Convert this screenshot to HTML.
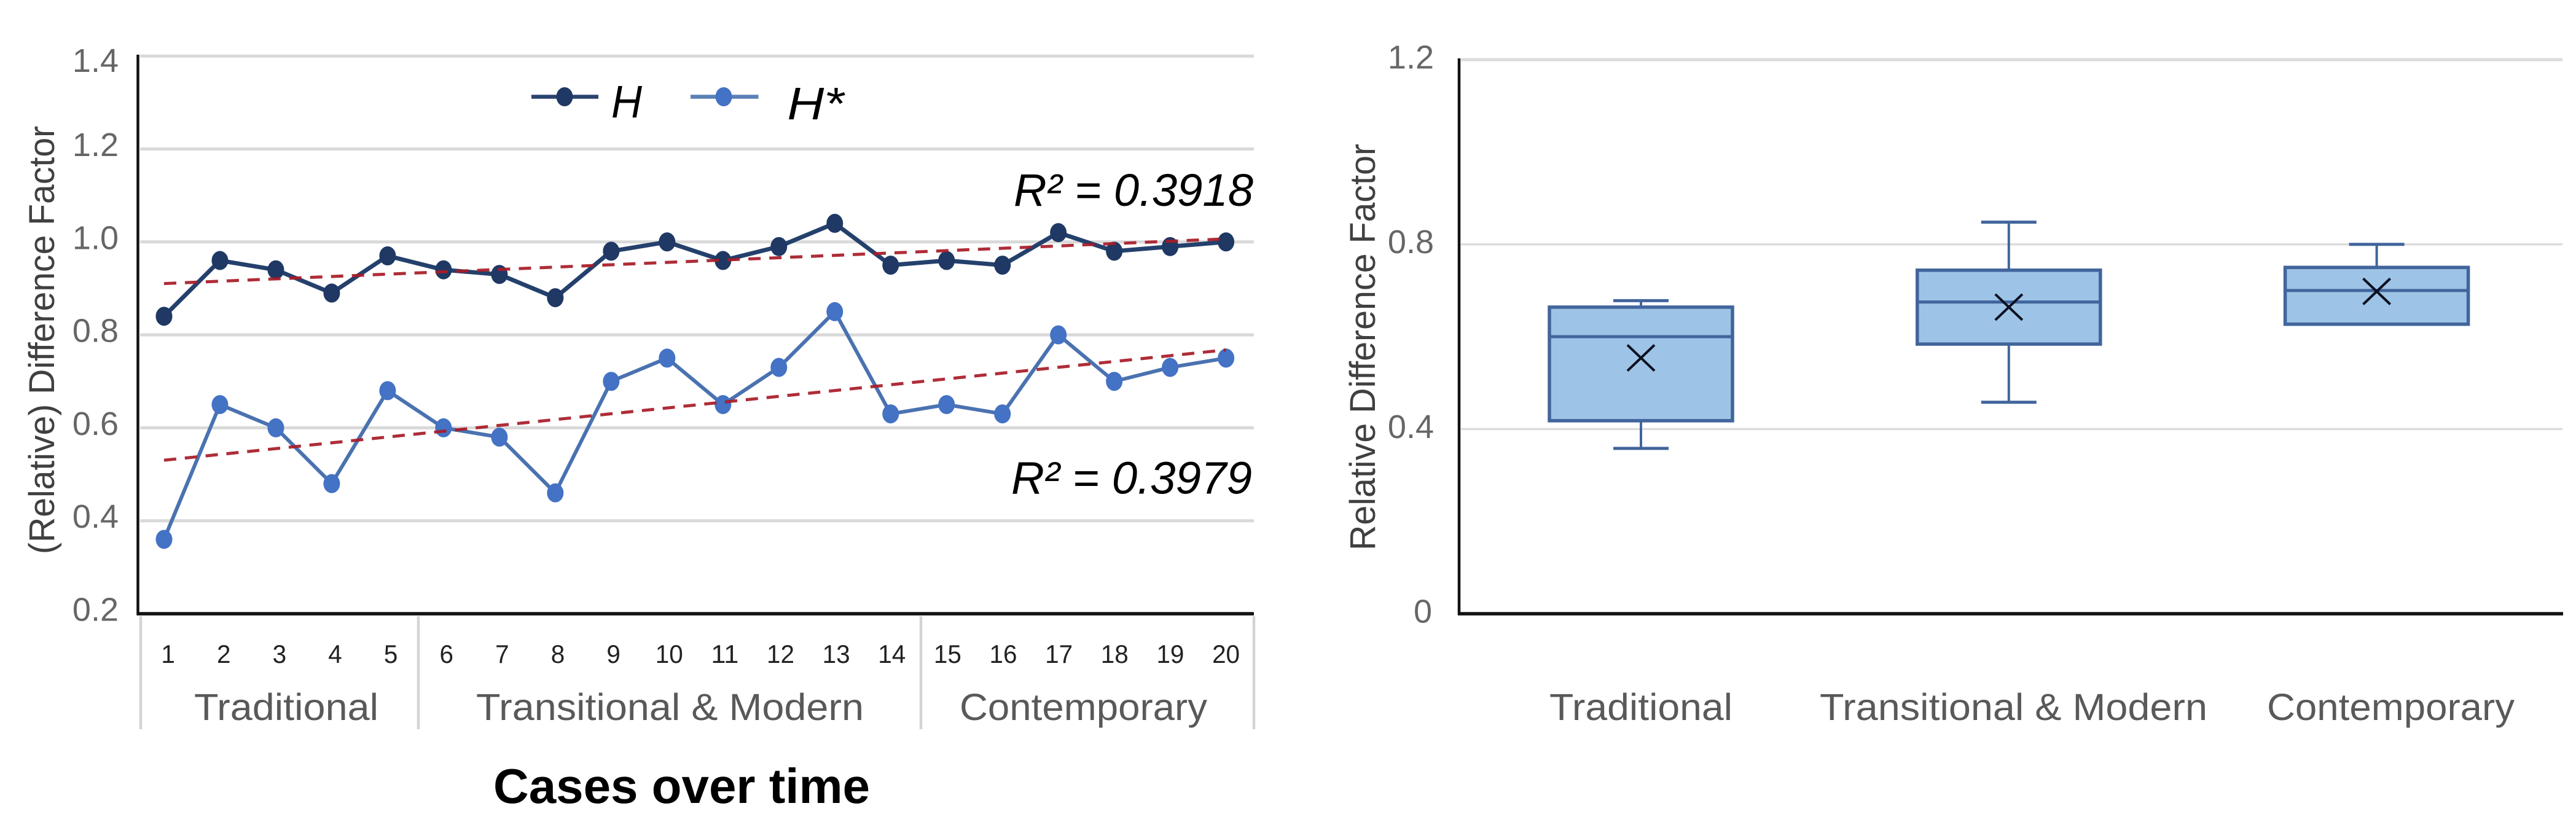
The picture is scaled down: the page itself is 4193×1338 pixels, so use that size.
<!DOCTYPE html>
<html lang="en">
<head>
<meta charset="utf-8">
<title>Difference Factor Charts</title>
<style>
  html, body { margin: 0; padding: 0; background: #ffffff; }
  svg { display: block; font-family: "Liberation Sans", sans-serif; }
</style>
</head>
<body>
<svg id="figure" xmlns="http://www.w3.org/2000/svg" width="4193" height="1338" viewBox="0 0 4193 1338">
  <rect x="0" y="0" width="4193" height="1338" fill="#ffffff"/>

  <g id="line-chart">
    <text transform="translate(88,902) rotate(-90)" font-size="58" fill="#404040" textLength="697" lengthAdjust="spacingAndGlyphs">(Relative) Difference Factor</text>
    <g id="line-grid"></g>
    <g id="line-ticks"></g>
    <g id="line-x-labels"></g>
    <g stroke="#d4d4d4" stroke-width="4.5">
      <line x1="229" y1="1003" x2="229" y2="1187"/>
      <line x1="681" y1="1003" x2="681" y2="1187"/>
      <line x1="1499" y1="1003" x2="1499" y2="1187"/>
      <line x1="2041" y1="1003" x2="2041" y2="1187"/>
    </g>
    <text x="316" y="1172" font-size="61" fill="#595959" textLength="300" lengthAdjust="spacingAndGlyphs">Traditional</text>
    <text x="775" y="1172" font-size="61" fill="#595959" textLength="631" lengthAdjust="spacingAndGlyphs">Transitional &amp; Modern</text>
    <text x="1562" y="1172" font-size="61" fill="#595959" textLength="403" lengthAdjust="spacingAndGlyphs">Contemporary</text>
    <text x="803" y="1307" font-size="80" font-weight="bold" fill="#000000" textLength="613" lengthAdjust="spacingAndGlyphs">Cases over time</text>
    <g id="line-series"></g>
    <line x1="224.5" y1="89" x2="224.5" y2="1001" stroke="#111111" stroke-width="4.5"/>
    <line x1="222.5" y1="999" x2="2041" y2="999" stroke="#111111" stroke-width="5.5"/>

    <g>
      <g>
        <line x1="865" y1="157.5" x2="974" y2="157.5" stroke="#2a4470" stroke-width="6.5"/>
        <ellipse cx="919" cy="157.5" rx="13.5" ry="15.5" fill="#1f3864"/>
        <text x="995" y="191" font-size="74" font-style="italic" fill="#000000" textLength="50" lengthAdjust="spacingAndGlyphs">H</text>
      </g>
      <g>
        <line x1="1124" y1="157.5" x2="1234.5" y2="157.5" stroke="#5a80b8" stroke-width="6.5"/>
        <ellipse cx="1178" cy="157.5" rx="13.5" ry="15.5" fill="#4472c4"/>
        <text x="1281.5" y="194" font-size="74" font-style="italic" fill="#000000" textLength="92" lengthAdjust="spacingAndGlyphs">H*</text>
      </g>
    </g>
    <text x="1650" y="335" font-size="74" font-style="italic" fill="#000000" textLength="390" lengthAdjust="spacingAndGlyphs">R² = 0.3918</text>
    <text x="1646" y="803.5" font-size="74" font-style="italic" fill="#000000" textLength="392" lengthAdjust="spacingAndGlyphs">R² = 0.3979</text>
  </g>

  <g id="box-chart">
    <text transform="translate(2238,896) rotate(-90)" font-size="58" fill="#404040" textLength="662" lengthAdjust="spacingAndGlyphs">Relative Difference Factor</text>
    <g id="box-grid"></g>
    <g id="box-ticks"></g>
    <g id="box-marks"></g>
    <line x1="2375" y1="95" x2="2375" y2="1001" stroke="#111111" stroke-width="4.5"/>
    <line x1="2373" y1="999" x2="4172" y2="999" stroke="#111111" stroke-width="5.5"/>
    <text x="2522" y="1172" font-size="61" fill="#595959" textLength="298" lengthAdjust="spacingAndGlyphs">Traditional</text>
    <text x="2962" y="1172" font-size="61" fill="#595959" textLength="631" lengthAdjust="spacingAndGlyphs">Transitional &amp; Modern</text>
    <text x="3690" y="1172" font-size="61" fill="#595959" textLength="403" lengthAdjust="spacingAndGlyphs">Contemporary</text>
  </g>
</svg>

<script>
// Line chart data
const caseLabels = ['1','2','3','4','5','6','7','8','9','10','11','12','13','14','15','16','17','18','19','20'];
const seriesH = [0.84,0.96,0.94,0.89,0.97,0.94,0.93,0.88,0.98,1.00,0.96,0.99,1.04,0.95,0.96,0.95,1.02,0.98,0.99,1.00];
const seriesHStar = [0.36,0.65,0.60,0.48,0.68,0.60,0.58,0.46,0.70,0.75,0.65,0.73,0.85,0.63,0.65,0.63,0.80,0.70,0.73,0.75];
const lineTicks = [0.2,0.4,0.6,0.8,1.0,1.2,1.4];
const lineTickLabels = ['0.2','0.4','0.6','0.8','1.0','1.2','1.4'];

// Box chart data
const boxGroups = ['Traditional','Transitional & Modern','Contemporary'];
const boxWhiskerLow = [0.358,0.458,0.627];
const boxQ1 = [0.418,0.584,0.627];
const boxMedian = [0.600,0.675,0.700];
const boxQ3 = [0.664,0.744,0.750];
const boxWhiskerHigh = [0.678,0.848,0.800];
const boxMean = [0.554,0.664,0.698];
const boxTicks = [0,0.4,0.8,1.2];
const boxTickLabels = ['0','0.4','0.8','1.2'];

const NS = 'http://www.w3.org/2000/svg';
function mk(tag, attrs, parent) {
  const el = document.createElementNS(NS, tag);
  for (const k in attrs) el.setAttribute(k, attrs[k]);
  parent.appendChild(el);
  return el;
}

// Axis functions
function lineY(v) { return 999 - (v - 0.2) * 756.5; }
function lineX(i) { return 267 + i * 90.98; }
function caseLabelX(i) { return 273.6 + i * 90.63; }
function boxY(v) { return 999 - v * 751.6; }
function boxX(i) { return 2671 + i * 598.8; }

function trendline(values) {
  const n = values.length;
  const mx = (n - 1) / 2;
  const my = values.reduce(function (a, b) { return a + b; }, 0) / n;
  let sxy = 0, sxx = 0;
  values.forEach(function (v, i) {
    sxy += (i - mx) * (v - my);
    sxx += (i - mx) * (i - mx);
  });
  const slope = sxy / sxx;
  return [my - slope * mx, my + slope * (n - 1 - mx)];
}

// Line chart gridlines and ticks
const lineGrid = document.getElementById('line-grid');
const lineTickGroup = document.getElementById('line-ticks');
lineTicks.forEach(function (v, i) {
  if (i > 0) {
    const g = mk('line', { x1: 228, x2: 2041, y1: lineY(v), y2: lineY(v), stroke: '#d9d9d9', 'stroke-width': 5 }, lineGrid);
    
    
  }
  const t = mk('text', { x: 193, y: lineY(v) + (i === lineTicks.length - 1 ? 26 : 11.5), 'text-anchor': 'end', 'font-size': 54, fill: '#666666' }, lineTickGroup);
  
  
  t.textContent = lineTickLabels[i];
});

// Case labels
const xLabelGroup = document.getElementById('line-x-labels');
caseLabels.forEach(function (label, i) {
  const t = mk('text', { x: caseLabelX(i), y: 1079, 'text-anchor': 'middle', 'font-size': 42, fill: '#222222', textLength: 22.5 * label.length, lengthAdjust: 'spacingAndGlyphs' }, xLabelGroup);
  
  
  t.textContent = label;
});

// Series
const seriesGroup = document.getElementById('line-series');
function drawSeries(values, lineColor, markerColor, width, key) {
  const points = values.map(function (v, i) { return lineX(i) + ',' + lineY(v); }).join(' ');
  const pl = mk('polyline', { points: points, fill: 'none', stroke: lineColor, 'stroke-width': width, 'stroke-linejoin': 'round' }, seriesGroup);
  
  
  values.forEach(function (v, i) {
    const m = mk('ellipse', { cx: lineX(i), cy: lineY(v), rx: 13.5, ry: 15.5, fill: markerColor }, seriesGroup);
    
    
  });
}
function drawTrend(values, key) {
  const ends = trendline(values);
  const tl = mk('line', { x1: lineX(0), y1: lineY(ends[0]), x2: lineX(values.length - 1), y2: lineY(ends[1]), stroke: '#a81c28', 'stroke-width': 5, 'stroke-dasharray': '20 14', opacity: 0.92 }, seriesGroup);
  
  
}
drawSeries(seriesH, '#24406c', '#1f3864', 7, 'h');
drawSeries(seriesHStar, '#4a72b0', '#4472c4', 6, 'h-star');
drawTrend(seriesH, 'h');
drawTrend(seriesHStar, 'h-star');

// Box chart gridlines and ticks
const boxGrid = document.getElementById('box-grid');
const boxTickGroup = document.getElementById('box-ticks');
boxTicks.forEach(function (v, i) {
  if (i > 0) {
    const g = mk('line', { x1: 2378, x2: 4171, y1: boxY(v), y2: boxY(v), stroke: '#dcdcdc', 'stroke-width': i === boxTicks.length - 1 ? 5 : 3.5 }, boxGrid);
    
    
  }
  const t = mk('text', { x: i === 0 ? 2331 : 2334, y: boxY(v) + 14.5, 'text-anchor': 'end', 'font-size': 54, fill: '#666666' }, boxTickGroup);
  
  
  t.textContent = boxTickLabels[i];
});

// Boxes
const boxMarks = document.getElementById('box-marks');
boxGroups.forEach(function (name, i) {
  const cx = boxX(i);
  const halfW = 149;
  const halfCap = 45;
  const stroke = '#41659c';

  const g = mk('g', {}, boxMarks);
  
  

  const wh = mk('line', { x1: cx, x2: cx, y1: boxY(boxWhiskerHigh[i]), y2: boxY(boxQ3[i]), stroke: stroke, 'stroke-width': 4 }, g);
  
  

  const wl = mk('line', { x1: cx, x2: cx, y1: boxY(boxQ1[i]), y2: boxY(boxWhiskerLow[i]), stroke: stroke, 'stroke-width': 4 }, g);
  
  

  const ch = mk('line', { x1: cx - halfCap, x2: cx + halfCap, y1: boxY(boxWhiskerHigh[i]), y2: boxY(boxWhiskerHigh[i]), stroke: stroke, 'stroke-width': 5 }, g);
  
  

  if (boxWhiskerLow[i] < boxQ1[i]) {
    const cl = mk('line', { x1: cx - halfCap, x2: cx + halfCap, y1: boxY(boxWhiskerLow[i]), y2: boxY(boxWhiskerLow[i]), stroke: stroke, 'stroke-width': 5 }, g);
    
    
  }

  const r = mk('rect', { x: cx - halfW, y: boxY(boxQ3[i]), width: halfW * 2, height: boxY(boxQ1[i]) - boxY(boxQ3[i]), fill: '#9dc3e6', stroke: stroke, 'stroke-width': 5.5 }, g);
  
  

  const med = mk('line', { x1: cx - halfW, x2: cx + halfW, y1: boxY(boxMedian[i]), y2: boxY(boxMedian[i]), stroke: stroke, 'stroke-width': 5 }, g);
  
  

  const my = boxY(boxMean[i]);
  const mean = mk('path', { d: 'M' + (cx - 22) + ' ' + (my - 21) + 'L' + (cx + 22) + ' ' + (my + 21) + 'M' + (cx + 22) + ' ' + (my - 21) + 'L' + (cx - 22) + ' ' + (my + 21), fill: 'none', stroke: '#0a0f1e', 'stroke-width': 4 }, g);
  
  
});
</script>
</body>
</html>
